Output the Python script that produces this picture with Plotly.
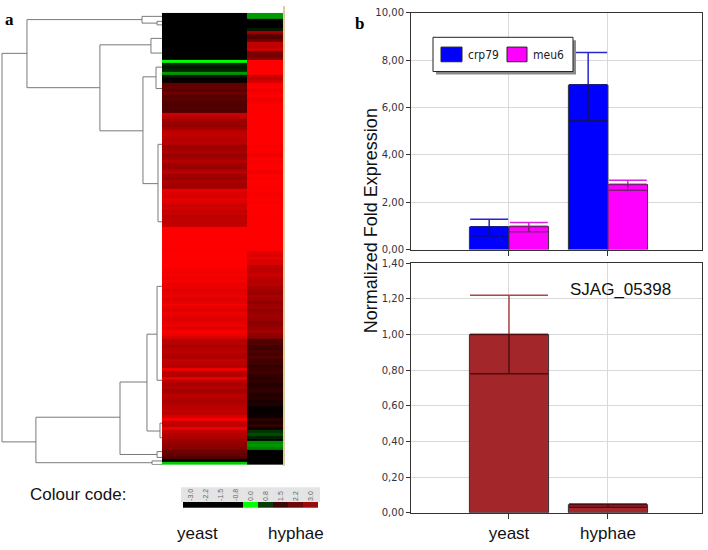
import plotly.graph_objects as go

W, H = 708, 550
def px(x): return x / W
def py(y): return 1 - y / H

# ---------------- data ----------------
heat_columns = ["yeast", "hyphae"]
yeast_vals = [
    0, 0, 0, 0, 0, 0, 0, 0, 0, 0, 0, 0, 0, 0, 0, 0,
    -1.0,
    -0.15, -0.1, -0.15,
    -0.6,
    -0.1, 0.05, 0.1,
    1.1, 1.2, 1.05, 1.25, 1.0, 1.1, 0.95, 0.9, 1.0, 0.9,
    2.4, 2.2, 1.9, 1.8, 1.7, 1.9,
    2.2, 2.3, 2.2, 2.1, 2.2,
    1.8, 1.9, 2.0, 1.8, 1.9, 2.1, 1.9, 1.8, 2.0, 2.2, 1.9, 1.8, 2.0, 1.9, 1.9,
    2.7, 2.6, 2.5, 2.7, 2.6, 2.4, 2.5, 2.3, 2.4, 2.2, 2.3, 2.2, 2.3,
    3.0, 3.0, 3.0, 3.0, 3.0, 3.0, 3.0, 2.95, 3.0, 3.0, 3.0, 3.0, 3.0, 3.0,
    2.9, 2.85, 2.9, 2.8,
    2.9, 2.7, 2.8, 2.6, 2.7, 2.8, 2.6, 2.7, 2.9, 2.7, 2.6, 2.8, 2.7, 2.6, 2.7, 2.8, 2.6, 2.9, 2.8, 2.6,
    2.1, 2.2, 2.0, 2.1, 2.2, 2.1, 2.0, 2.3, 2.2, 2.1, 2.8, 2.2, 2.1, 2.7, 2.2, 2.0, 2.1, 1.9, 2.0, 2.2, 2.1, 2.0, 2.1,
    2.2, 2.3, 2.2, 2.5, 2.9, 2.3, 2.2, 2.8, 2.3, 2.1,
    2.0, 1.9, 1.8, 1.7, 1.6,
    1.3, 1.2, 1.0,
    0.1,
    -0.8,
]
hyphae_vals = [
    -0.6, -0.6,
    0, 0.05, 0,
    -0.1,
    1.9,
    1.2, 1.0, 1.3,
    2.3, 2.2, 2.4,
    1.5, 1.4, 1.6,
    3.0, 3.0, 3.0, 3.0, 3.0,
    2.4, 2.3, 2.5,
    2.9, 3.0, 2.8, 2.9, 3.0, 2.8, 2.9, 3.0, 2.9, 3.0,
    3.0, 3.0, 3.0, 3.0, 3.0, 3.0, 3.0, 3.0, 3.0, 3.0, 3.0,
    2.9, 3.0, 2.9, 2.8, 3.0, 2.9, 3.0, 3.0, 2.9, 2.8, 3.0, 2.9, 3.0, 3.0, 2.95, 3.0,
    2.9, 2.95, 3.0, 2.9, 3.0, 3.0, 3.0, 3.0, 2.95, 3.0, 3.0, 3.0,
    3.0, 3.0, 3.0, 3.0, 3.0, 3.0, 3.0, 3.0,
    2.7, 2.6, 2.7, 2.5, 2.6,
    2.3, 2.2, 2.3, 2.4, 2.2, 2.1, 2.2, 2.0,
    1.9, 1.8, 2.0, 1.9, 1.7, 1.8, 1.9, 1.7, 1.8, 1.9, 1.8, 1.6, 1.7, 1.8, 1.9, 1.7, 1.6,
    0.9, 1.0, 0.8, 0.7, 0.9, 0.8, 1.0, 0.7, 0.8, 0.6, 0.7, 0.8, 0.6,
    0.5, 0.6, 0.4, 0.5, 0.6, 0.5, 0.4, 0.5, 0.3, 0.4,
    0.1, 0.05, 0.1, 0.15,
    0.5, 0.3, 0.6, 0.2,
    -0.2, -0.3, -0.15,
    0,
    -0.55, -0.6, -0.5,
    0, 0, 0.05, 0, 0,
]

# dendrogram links: merge height, top/bottom row, heights of the two children
link_height =       [1.0, 0.844, 0.125, 0.031, 0.388, 0.069, 0.119, 0.0375, 0.025,
                     0.788, 0.0625, 0.2625, 0.031, 0.094, 0.031, 0.0125]
link_row_top =      [13.3, 1.8, 0.7, 2.4, 10.4, 8.2, 21.3, 18.0, 44.3,
                     137.3, 152.2, 125.3, 149.0, 109.0, 92.7, 139.3]
link_row_bottom =   [145.7, 25.0, 3.0, 3.6, 39.7, 13.2, 57.7, 25.3, 70.7,
                     152.8, 153.4, 150.0, 151.0, 142.0, 124.7, 144.3]
link_child_top =    [0.844, 0.125, 0.0, 0.0, 0.069, 0.0, 0.0375, 0.0, 0.0,
                     0.2625, 0.0, 0.094, 0.0, 0.031, 0.0, 0.0]
link_child_bottom = [0.788, 0.388, 0.031, 0.0, 0.119, 0.0, 0.025, 0.0, 0.0,
                     0.0625, 0.0, 0.031, 0.0, 0.0125, 0.0, 0.0]

code_labels = ["-3.0", "-2.2", "-1.5", "-0.8", "0.0", "0.8", "1.5", "2.2", "3.0"]
code_colors = ["#000000", "#000000", "#000000", "#000000", "#00ff00",
               "#0a3a0a", "#3c0606", "#6e0808", "#9a0a0a"]

categories = ["yeast", "hyphae"]
series_names = ["crp79", "meu6"]
series_colors = ["#0000ff", "#ff00ff"]
crp79 = [0.95, 6.95]
crp79_hi = [1.28, 8.33]
crp79_lo = [0.58, 5.44]
meu6 = [0.97, 2.75]
meu6_hi = [1.14, 2.93]
meu6_lo = [0.75, 2.51]
sjag = [1.00, 0.045]
sjag_hi = [1.22, 0.05]
sjag_lo = [0.78, 0.03]

FONT = "Liberation Sans"
TAHOMA = "DejaVu Sans"

fig = go.Figure()

# ---- dendrogram ----
dx, dy = [], []
for h, rt, rb, ct, cb in zip(link_height, link_row_top, link_row_bottom,
                             link_child_top, link_child_bottom):
    dx += [ct, h, h, cb, None]
    dy += [rt, rt, rb, rb, None]
fig.add_trace(go.Scatter(x=dx, y=dy, mode="lines", xaxis="x", yaxis="y",
                         line=dict(color="#7a7a7a", width=1), showlegend=False,
                         hoverinfo="skip"))

# ---- heatmap ----
zrows = [[a, b] for a, b in zip(yeast_vals, hyphae_vals)]
fig.add_trace(go.Heatmap(
    z=zrows, x=[0, 85, 121], y=list(range(len(yeast_vals))),
    xaxis="x2", yaxis="y", zmin=-1, zmax=3, showscale=False,
    colorscale=[[0, "#00ff00"], [0.25, "#000000"], [1, "#ff0000"]],
    hoverinfo="skip"))

# ---- colour code ----
n = len(code_colors)
cs = []
for k, c in enumerate(code_colors):
    cs += [[k / n, c], [(k + 1) / n, c]]
fig.add_trace(go.Heatmap(
    z=[list(range(n))], x=code_labels, xaxis="x3", yaxis="y3",
    zmin=-0.5, zmax=n - 0.5, colorscale=cs, showscale=False, hoverinfo="skip"))

# ---- bar charts ----
def bars(name, vals, hi, lo, color, capcol, incol, xa, ya, grp, capw):
    fig.add_trace(go.Bar(
        name=name, x=categories, y=vals, xaxis=xa, yaxis=ya, offsetgroup=grp,
        marker=dict(color=color, line=dict(color="#333333", width=1)),
        error_y=dict(type="data", symmetric=False,
                     array=[h - v for h, v in zip(hi, vals)],
                     arrayminus=[0 for _ in vals],
                     color=capcol, thickness=1.5, width=capw),
        showlegend=False))
    fig.add_trace(go.Bar(
        name=name, x=categories, y=vals, xaxis=xa, yaxis=ya, offsetgroup=grp,
        marker=dict(color="rgba(0,0,0,0)", line=dict(width=0)),
        error_y=dict(type="data", symmetric=False,
                     array=[0 for _ in vals],
                     arrayminus=[v - l for v, l in zip(vals, lo)],
                     color=incol, thickness=1.5, width=capw),
        showlegend=False, hoverinfo="skip"))

bars(series_names[0], crp79, crp79_hi, crp79_lo, series_colors[0], "#2626d0", "#10106a", "x4", "y4", "c", 19)
bars(series_names[1], meu6, meu6_hi, meu6_lo, series_colors[1], "#e020e0", "#7a207a", "x4", "y4", "m", 19)
bars("SJAG_05398", sjag, sjag_hi, sjag_lo, "#a3262a", "#b04444", "#4e0e10", "x5", "y5", "s", 39)

grid = "#d9d9d9"
common_y = dict(showgrid=True, gridcolor=grid, showline=True, linecolor="#333333",
                linewidth=1, mirror=True, ticks="outside", ticklen=4, tickcolor="#333333",
                tickformat=".2f", zeroline=False,
                tickfont=dict(family=TAHOMA, size=10, color="#333344"))
common_x = dict(type="category", range=[-0.99, 1.95], showgrid=True, gridcolor=grid,
                showline=True, linecolor="#333333", linewidth=1, mirror=True,
                ticks="outside", ticklen=5, tickcolor="#333333", zeroline=False)

fig.update_layout(
    width=W, height=H, margin=dict(l=0, r=0, t=0, b=0),
    paper_bgcolor="white", plot_bgcolor="white",
    separators=",.",
    barmode="group", bargap=0.2, bargroupgap=0,
    xaxis=dict(domain=[0, px(162)], range=[1.0125, 0], visible=False),
    yaxis=dict(domain=[py(469), py(7)], range=[153.5, -0.5], visible=False),
    xaxis2=dict(domain=[px(162), px(283)], range=[0, 121], visible=False, anchor="y"),
    xaxis3=dict(domain=[px(183), px(318)], anchor="y3", side="top", type="category",
                showticklabels=True, ticks="", showline=False, showgrid=False,
                tickangle=-90, tickfont=dict(family=FONT, size=7, color="#666666")),
    yaxis3=dict(domain=[py(513), py(507)], anchor="x3", visible=False),
    xaxis4=dict(domain=[px(411), px(702)], anchor="y4", showticklabels=False, **common_x),
    yaxis4=dict(domain=[py(249), py(7)], anchor="x4", range=[0, 10], dtick=2, **common_y),
    xaxis5=dict(domain=[px(411), px(702)], anchor="y5", showticklabels=True,
                tickfont=dict(family=FONT, size=17, color="#111111"), **common_x),
    yaxis5=dict(domain=[py(518), py(263)], anchor="x5", range=[0, 1.4], dtick=0.2, **common_y),
    showlegend=False,
)

def rect(x0, y0, x1, y1, fill, line=None, lw=0, layer="above"):
    fig.add_shape(type="rect", xref="paper", yref="paper", x0=px(x0), x1=px(x1),
                  y0=py(y1), y1=py(y0), fillcolor=fill, layer=layer,
                  line=dict(color=line or fill, width=lw))

# background box behind colour code labels
rect(181, 492, 320, 507, "#e4e4e4", layer="below")
# tan border right of heatmap
fig.add_shape(type="line", xref="paper", yref="paper", x0=px(284), x1=px(284),
              y0=py(470), y1=py(0), line=dict(color="#dccca0", width=2))

# legend box (with drop shadow) for the top bar chart
rect(436, 35, 576, 70, "#8a8a8a")
rect(433, 32, 573, 67, "white", "#222222", 1)
rect(441, 42, 462, 57, series_colors[0], "#222222", 1)
rect(507, 42, 527, 57, series_colors[1], "#222222", 1)

ann = [
    dict(text="<b>a</b>", x=px(3), y=py(2), xanchor="left", yanchor="top",
         font=dict(family="Liberation Serif", size=17, color="black")),
    dict(text="<b>b</b>", x=px(353), y=py(6), xanchor="left", yanchor="top",
         font=dict(family="Liberation Serif", size=17, color="black")),
    dict(text="Colour code:", x=px(28), y=py(499), xanchor="left", yanchor="middle",
         font=dict(family=FONT, size=17, color="#111111")),
    dict(text="yeast", x=px(197), y=py(539), xanchor="center", yanchor="middle",
         font=dict(family=FONT, size=17, color="#111111")),
    dict(text="hyphae", x=px(296), y=py(539), xanchor="center", yanchor="middle",
         font=dict(family=FONT, size=17, color="#111111")),
    dict(text="SJAG_05398", x=px(620), y=py(290), xanchor="center", yanchor="middle",
         font=dict(family=FONT, size=17, color="#111111")),
    dict(text="Normalized Fold Expression", x=px(371), y=py(220), xanchor="center",
         yanchor="middle", textangle=-90,
         font=dict(family=FONT, size=18, color="#111111")),
    dict(text=series_names[0], x=px(466), y=py(50), xanchor="left", yanchor="middle",
         font=dict(family="DejaVu Sans Condensed", size=12, color="#222222")),
    dict(text=series_names[1], x=px(531), y=py(50), xanchor="left", yanchor="middle",
         font=dict(family="DejaVu Sans Condensed", size=12, color="#222222")),
]
for a in ann:
    a.update(xref="paper", yref="paper", showarrow=False)
fig.update_layout(annotations=ann)

fig.write_html("out.html", config={"displayModeBar": False},
               post_script="document.body.style.margin='0';document.body.style.overflow='hidden';")
